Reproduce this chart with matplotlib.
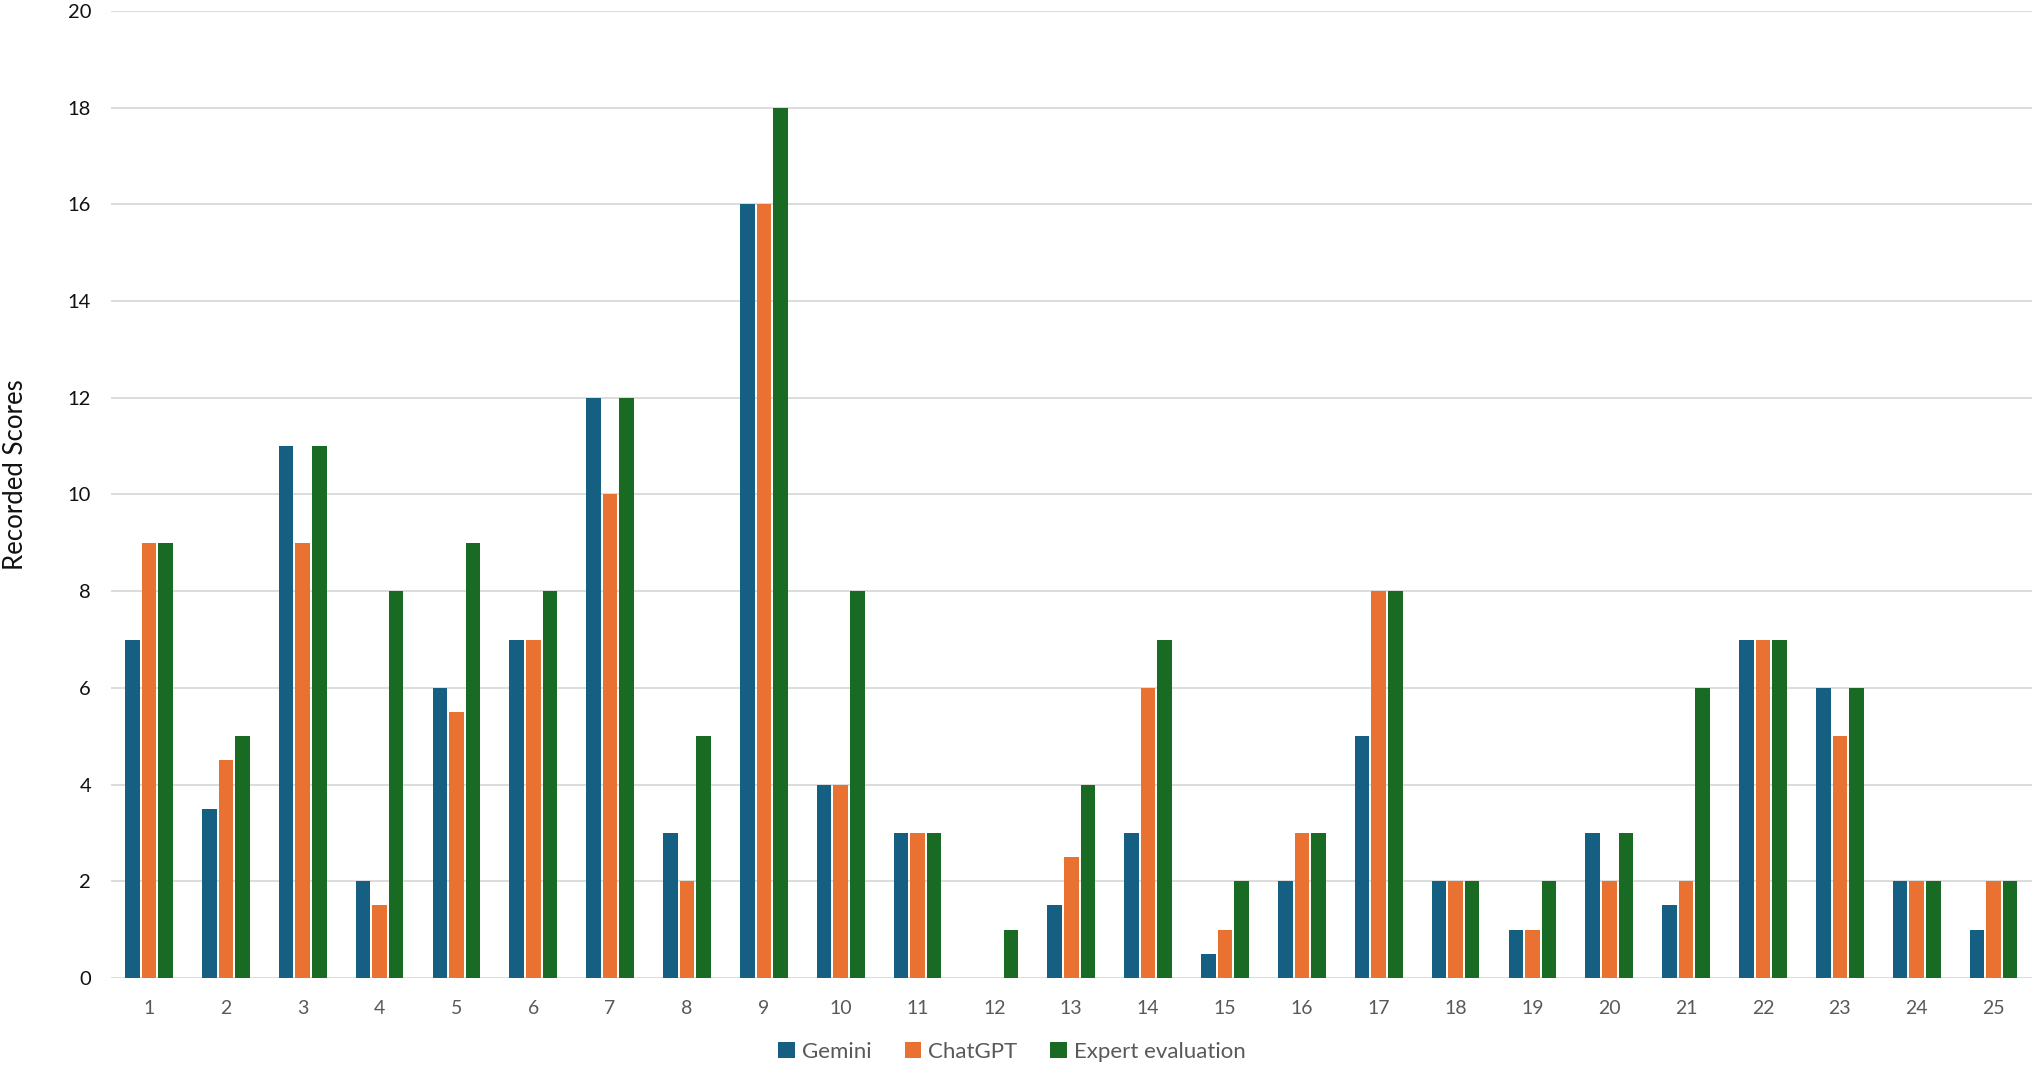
import numpy as np
import matplotlib
matplotlib.use("Agg")
import matplotlib.pyplot as plt

plt.rcParams['font.family'] = ['Lato', 'DejaVu Sans']

# Scores per item
items = [str(i) for i in range(1, 26)]
gemini = [7, 3.5, 11, 2, 6, 7, 12, 3, 16, 4, 3, 0, 1.5, 3, 0.5, 2, 5, 2, 1, 3, 1.5, 7, 6, 2, 1]
chatgpt = [9, 4.5, 9, 1.5, 5.5, 7, 10, 2, 16, 4, 3, 0, 2.5, 6, 1, 3, 8, 2, 1, 2, 2, 7, 5, 2, 2]
expert = [9, 5, 11, 8, 9, 8, 12, 5, 18, 8, 3, 1, 4, 7, 2, 3, 8, 2, 2, 3, 6, 7, 6, 2, 2]

series = ["Gemini", "ChatGPT", "Expert evaluation"]
colors = ["#156082", "#E97132", "#196B24"]

fig = plt.figure(figsize=(20.32, 10.66), dpi=100)
ax = fig.add_axes([0.0544, 0.0826, 0.9456, 0.9071])

x = np.arange(len(items))
pitch = 0.216
width = 0.19
for j, (name, vals, col) in enumerate(zip(series, [gemini, chatgpt, expert], colors)):
    ax.bar(x + (j - 1) * pitch, vals, width, color=col, label=name, zorder=3)

ax.set_xlim(-0.5, len(items) - 0.5)
ax.set_ylim(0, 20)
ax.set_yticks(np.arange(0, 21, 2))
ax.set_xticks(x)
ax.set_xticklabels(items)

ax.grid(axis='y', color='#D9D9D9', linewidth=1.3, zorder=0)
for s in ax.spines.values():
    s.set_visible(False)
ax.tick_params(axis='both', length=0)
ax.tick_params(axis='x', pad=16, labelsize=14, labelcolor='#595959')
ax.tick_params(axis='y', pad=14, labelsize=14.5, labelcolor='#111111')

ax.set_ylabel("Recorded Scores", fontsize=18.5, color='#111111')
ax.yaxis.set_label_coords(-0.043, 0.521)

fig.legend(loc='center', bbox_to_anchor=(0.498, 0.0135), ncol=3, frameon=False,
           fontsize=16, labelcolor='#595959', handlelength=0.75, handleheight=0.75,
           handletextpad=0.3, columnspacing=1.5)

fig.savefig("out.png", dpi=100)
